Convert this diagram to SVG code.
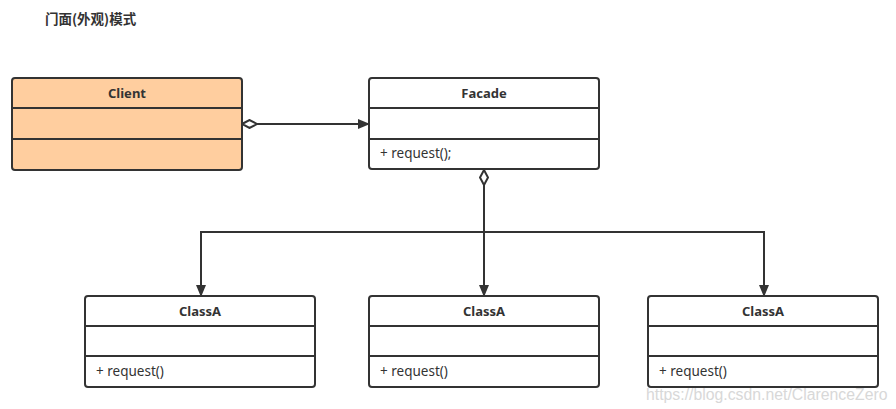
<svg xmlns="http://www.w3.org/2000/svg" width="896" height="409" viewBox="0 0 896 409">
<style>
.box{fill:#ffffff;stroke:#333333;stroke-width:2}
.client{fill:#ffce9f}
.div{stroke:#333333;stroke-width:2}
.name{font-family:"Noto Sans","Open Sans","Noto Sans CJK SC",sans-serif;font-size:13px;font-weight:bold;fill:#333333;text-anchor:middle}
.op{font-family:"Noto Sans","Open Sans",sans-serif;font-size:13.5px;fill:#333333}
.edge{fill:none;stroke:#333333;stroke-width:2}
</style>
<defs>
<marker id="arrow" markerWidth="12" markerHeight="10" refX="11" refY="5" orient="auto" markerUnits="userSpaceOnUse">
<path d="M0,0 L12,5 L0,10 Z" fill="#333333"/>
</marker>
<marker id="diamond" markerWidth="18" markerHeight="10" refX="1" refY="5" orient="auto" markerUnits="userSpaceOnUse">
<path d="M1,5 L8.5,1 L16,5 L8.5,9 Z" fill="#ffffff" stroke="#333333" stroke-width="2"/>
</marker>
</defs>
<rect width="896" height="409" fill="#ffffff"/>
<text x="45" y="24" font-family="'Noto Sans CJK SC',sans-serif" font-size="13.5" font-weight="bold" fill="#333333">门面(外观)模式</text>

<g id="connectors">
<path class="edge" d="M242,124 L369,124" marker-start="url(#diamond)" marker-end="url(#arrow)"/>
<path class="edge" d="M484,170 L484,296" marker-start="url(#diamond)" marker-end="url(#arrow)"/>
<path class="edge" d="M484,232 L201,232 L201,296" marker-end="url(#arrow)"/>
<path class="edge" d="M484,232 L764,232 L764,296" marker-end="url(#arrow)"/>
</g>

<g id="client">
<rect class="box client" x="12" y="78" width="230" height="92" rx="3"/>
<line class="div" x1="12" y1="108" x2="242" y2="108"/>
<line class="div" x1="12" y1="139" x2="242" y2="139"/>
<text class="name" x="127" y="98">Client</text>
</g>

<g id="facade">
<rect class="box" x="369" y="78" width="230" height="91" rx="3"/>
<line class="div" x1="369" y1="108" x2="599" y2="108"/>
<line class="div" x1="369" y1="139" x2="599" y2="139"/>
<text class="name" x="484" y="98">Facade</text>
<text class="op" x="380" y="158">+ request();</text>
</g>

<g id="classA1">
<rect class="box" x="85" y="296" width="230" height="91" rx="3"/>
<line class="div" x1="85" y1="326" x2="315" y2="326"/>
<line class="div" x1="85" y1="356" x2="315" y2="356"/>
<text class="name" x="200" y="316">ClassA</text>
<text class="op" x="96" y="376">+ request()</text>
</g>

<g id="classA2">
<rect class="box" x="369" y="296" width="230" height="91" rx="3"/>
<line class="div" x1="369" y1="326" x2="599" y2="326"/>
<line class="div" x1="369" y1="356" x2="599" y2="356"/>
<text class="name" x="484" y="316">ClassA</text>
<text class="op" x="380" y="376">+ request()</text>
</g>

<g id="classA3">
<rect class="box" x="648" y="296" width="230" height="91" rx="3"/>
<line class="div" x1="648" y1="326" x2="878" y2="326"/>
<line class="div" x1="648" y1="356" x2="878" y2="356"/>
<text class="name" x="763" y="316">ClassA</text>
<text class="op" x="659" y="376">+ request()</text>
</g>

<text x="646" y="400" font-family="'Liberation Sans',Arial,sans-serif" font-size="15.8" fill="#d8d8d8">https://blog.csdn.net/ClarenceZero</text>
</svg>
